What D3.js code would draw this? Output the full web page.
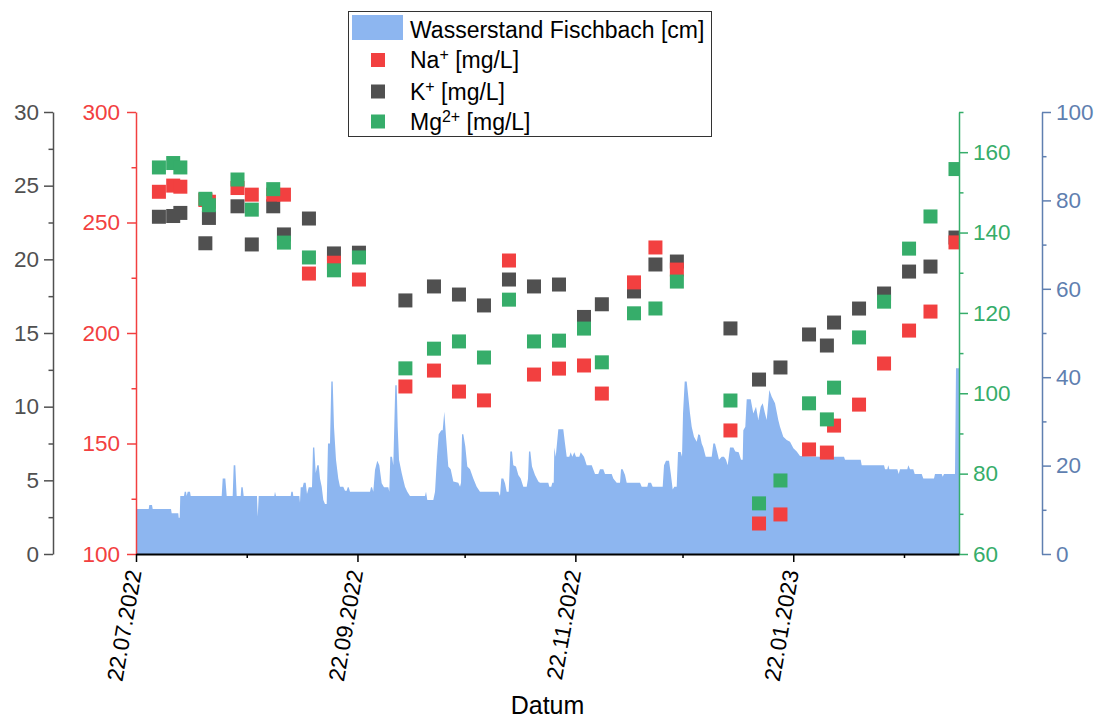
<!DOCTYPE html>
<html>
<head>
<meta charset="utf-8">
<script src="https://cdn.jsdelivr.net/npm/d3@7"></script>
<style>
  body { margin: 0; background: #fff; }
  text { font-family: "Liberation Sans", Arial, Helvetica, sans-serif; }
</style>
</head>
<body>
<svg id="chart" width="1099" height="721"></svg>
<script>
// ---- Ion samples (grab samples, Fischbach) ----
const sampleDates = [
  "28.07.2022 10:00", "01.08.2022 10:00", "03.08.2022 10:00", "10.08.2022 10:00", "11.08.2022 10:00",
  "19.08.2022 10:00", "23.08.2022 10:00", "29.08.2022 10:00", "01.09.2022 10:00", "08.09.2022 10:00",
  "15.09.2022 10:00", "22.09.2022 10:00", "05.10.2022 10:00", "13.10.2022 10:00", "20.10.2022 10:00",
  "27.10.2022 10:00", "03.11.2022 10:00", "10.11.2022 10:00", "17.11.2022 10:00", "24.11.2022 10:00",
  "29.11.2022 10:00", "08.12.2022 10:00", "14.12.2022 10:00", "20.12.2022 10:00", "04.01.2023 10:00",
  "12.01.2023 10:00", "18.01.2023 10:00", "26.01.2023 10:00", "31.01.2023 10:00", "02.02.2023 10:00",
  "09.02.2023 10:00", "16.02.2023 10:00", "23.02.2023 10:00", "01.03.2023 10:00", "08.03.2023 10:00"
];
// Na+ [mg/L]
const sodium = [
  263.9, 266.7, 266.2, 260.2, 259.4, 265.6, 262.6, 262.6, 262.6, 226.9,
  231.8, 224.2, 175.8, 183.0, 173.5, 169.5, 232.8, 181.2, 183.9, 185.3,
  172.6, 222.9, 238.7, 228.7, 155.9, 113.8, 117.9, 147.3, 145.9, 158.1,
  167.6, 186.2, 201.1, 209.7, 241.0
];
// K+ [mg/L]
const potassium = [
  22.89, 22.94, 23.15, 21.09, 22.81, 23.60, 21.01, 23.60, 21.69, 22.77,
  20.40, 20.45, 17.21, 18.16, 17.61, 16.87, 18.63, 18.16, 18.29, 16.09,
  16.95, 17.82, 19.65, 19.85, 15.31, 11.84, 12.66, 14.90, 14.15, 15.71,
  16.66, 17.68, 19.17, 19.51, 21.48
];
// Mg2+ [mg/L]
const magnesium = [
  156.2, 157.3, 156.2, 148.4, 146.8, 153.2, 145.7, 150.8, 137.5, 133.8,
  130.6, 133.8, 106.2, 111.1, 112.9, 108.9, 123.3, 112.9, 113.1, 116.1,
  107.7, 119.9, 121.1, 127.8, 98.2, 72.6, 78.3, 97.5, 93.5, 101.4,
  113.9, 122.8, 136.0, 144.0, 155.8
];

// ---- Water level logger: [days since 22.07.2022 00:00, level in cm] ----
const waterLevel = [
  [0,10.2],[3.56,10.2],[3.72,11.1],[4.48,11.1],[4.68,10.2],[9.8,10.2],[9.99,9.2],[11.84,9.2],[11.95,8.2],[12.23,8.2],
  [12.4,13.1],[13.44,13.1],[13.63,14.1],[14.0,14.1],[14.19,13.1],[14.47,14.1],[15.12,14.1],[15.31,13.1],[23.99,13.1],[24.27,17.1],
  [25.0,17.1],[25.39,13.1],[27.07,13.1],[27.35,20.1],[27.8,20.1],[28.19,13.1],[29.31,13.1],[29.48,15.1],[29.87,15.1],[30.15,13.1],
  [33.87,13.1],[34.07,8.4],[34.35,13.1],[38.72,13.1],[38.91,14.1],[39.19,13.1],[43.31,13.1],[43.48,14.1],[43.87,14.1],[44.04,13.1],
  [45.72,13.1],[45.91,11.6],[46.11,15.1],[46.67,15.1],[46.95,16.1],[47.51,16.1],[47.87,13.6],[48.35,15.1],[49.27,15.1],[49.55,24.1],
  [49.92,24.1],[50.31,18.3],[50.76,20.1],[51.15,20.1],[51.51,17.1],[51.99,15.2],[52.44,12.2],[52.91,11.3],[53.39,11.3],[53.75,25.0],
  [54.31,25.0],[54.68,39.0],[55.07,39.0],[55.43,28.8],[55.99,21.3],[56.63,17.1],[57.11,15.2],[58.03,15.2],[58.51,14.3],[58.99,14.3],
  [59.27,15.1],[59.55,15.1],[59.91,14.1],[65.51,14.1],[65.79,15.1],[66.07,15.1],[66.43,14.1],[66.91,19.0],[67.55,21.1],[68.11,20.1],
  [68.78,16.0],[69.43,15.1],[70.63,15.1],[70.91,14.1],[71.19,22.0],[71.67,22.0],[72.03,20.1],[72.59,38.2],[72.98,38.2],[73.26,28.8],
  [73.63,21.3],[74.38,18.3],[74.83,16.8],[75.31,15.2],[75.95,14.1],[76.71,13.1],[80.91,13.1],[81.19,14.1],[81.55,12.2],[83.23,12.2],
  [83.71,14.1],[84.27,22.0],[84.74,27.1],[85.47,28.0],[85.86,28.0],[86.31,32.2],[86.79,26.5],[87.43,19.8],[88.1,19.2],[88.83,16.4],
  [90.23,16.1],[90.71,15.2],[90.99,16.1],[91.27,27.1],[91.63,27.1],[92.19,24.3],[92.75,19.8],[93.51,19.2],[94.43,17.1],[95.38,15.2],
  [96.3,14.1],[101.43,14.1],[101.9,13.1],[102.27,17.1],[102.83,17.1],[103.3,16.0],[103.78,14.1],[104.34,14.1],[104.79,23.2],[105.26,23.2],
  [105.63,20.1],[106.38,19.8],[107.03,17.9],[107.7,17.1],[108.43,15.2],[109.38,15.2],[109.74,17.0],[110.02,23.2],[110.39,23.2],[110.86,19.8],
  [111.7,17.9],[112.63,16.4],[113.1,16.1],[115.42,16.1],[115.71,15.2],[116.26,15.2],[116.55,16.1],[116.94,16.1],[117.11,24.1],[117.5,22.0],
  [118.23,28.2],[119.62,28.2],[120.1,25.0],[120.58,22.0],[121.3,22.0],[121.7,23.0],[122.14,22.0],[122.71,23.0],[123.18,22.0],[124.1,22.0],
  [124.5,23.0],[125.42,22.0],[126.18,20.1],[127.58,20.1],[128.22,18.7],[128.5,18.1],[129.42,18.1],[129.9,19.2],[130.82,19.2],[131.3,18.1],
  [133.17,18.1],[133.62,17.1],[134.57,16.1],[135.5,16.1],[135.78,19.2],[136.25,19.2],[136.9,17.9],[137.37,16.1],[141.1,16.1],[141.57,15.2],
  [143.14,15.2],[143.42,16.1],[144.18,16.1],[144.65,15.2],[147.45,15.2],[147.82,20.1],[148.38,21.1],[149.22,21.1],[149.69,18.3],[150.25,14.6],
  [150.7,15.2],[151.37,15.2],[151.74,23.1],[152.49,23.1],[152.86,22.0],[153.14,31.8],[153.61,39.0],[154.17,39.0],[154.62,35.6],[155.1,31.8],
  [155.57,28.8],[156.21,26.5],[156.97,25.4],[157.42,27.1],[157.89,26.9],[158.37,25.0],[158.82,24.1],[159.49,22.0],[161.17,22.0],[161.62,25.0],
  [162.09,25.0],[162.57,23.5],[163.21,21.3],[163.97,22.0],[164.61,22.0],[165.17,21.3],[165.65,20.1],[166.29,24.1],[167.22,24.1],[167.78,23.2],
  [168.73,23.0],[169.37,21.3],[169.85,21.3],[170.02,28.0],[170.58,28.8],[170.97,35.0],[172.09,35.0],[172.82,31.8],[173.57,33.3],[174.22,30.3],
  [174.89,33.3],[175.45,34.1],[176.09,31.8],[176.57,30.3],[177.29,37.1],[177.97,35.6],[178.89,34.1],[179.81,30.3],[180.29,28.8],[181.21,26.5],
  [182.17,25.8],[183.09,25.4],[184.04,23.9],[184.97,23.2],[185.89,22.2],[191.49,22.0],[198.21,22.0],[198.49,21.3],[202.88,21.3],[203.16,20.1],
  [209.41,20.1],[209.69,19.2],[210.33,19.2],[210.61,20.1],[210.89,19.2],[213.13,19.2],[213.52,18.1],[213.89,19.2],[215.93,19.2],[216.21,20.1],
  [216.69,19.2],[217.61,19.2],[218.0,18.1],[219.96,18.1],[220.41,17.1],[223.4,17.1],[223.68,18.1],[225.56,18.1],[225.84,17.5],[226.2,18.1],
  [229.28,18.1],[229.56,42.0],[230.4,42.0]
];

// ---- Axis definitions ----
const naTicks = [100, 150, 200, 250, 300];
const kTicks = [0, 5, 10, 15, 20, 25, 30];
const mgTicks = [60, 80, 100, 120, 140, 160];
const levelTicks = [0, 20, 40, 60, 80, 100];
const dateTickLabels = ["22.07.2022", "22.09.2022", "22.11.2022", "22.01.2023"];
const dateMinorLabels = ["22.08.2022", "22.10.2022", "22.12.2022", "22.02.2023"];

// ---- Colours ----
const cLevel = "#8db6f0";
const cNa = "#f24040";
const cK = "#505050";
const cMg = "#36ad6a";
const cLevelAxis = "#5f7fb0";

// ---- Layout ----
const L = 136, R = 959, T = 112, B = 554;
const FS = 22.5;

const svg = d3.select("#chart");
const parseSample = d3.timeParse("%d.%m.%Y %H:%M");
const parseDay = d3.timeParse("%d.%m.%Y");
const t0 = parseDay("22.07.2022");
const DAY = 864e5;
const dayToDate = d => new Date(+t0 + d * DAY);

const x = d3.scaleTime().domain([t0, dayToDate(230.4)]).range([L, R]);
const yNa = d3.scaleLinear().domain([100, 300]).range([B, T]);
const yK = d3.scaleLinear().domain([0, 30]).range([B, T]);
const yMg = d3.scaleLinear().domain([60, 170]).range([B, T]);
const yLevel = d3.scaleLinear().domain([0, 100]).range([B, T]);

svg.append("defs").append("clipPath").attr("id", "plotClip")
  .append("rect").attr("x", L).attr("y", T).attr("width", R - L).attr("height", B - T);

const plot = svg.append("g").attr("clip-path", "url(#plotClip)");

// Water level as filled area
const area = d3.area()
  .x(d => x(dayToDate(d[0])))
  .y0(yLevel(0))
  .y1(d => yLevel(d[1]));
plot.append("path").datum(waterLevel).attr("d", area).attr("fill", cLevel);

// Ion concentrations as square markers
const sampleX = sampleDates.map(s => x(parseSample(s)));
const MS = 14;
function squares(values, scale, color) {
  plot.append("g").selectAll("rect").data(values).join("rect")
    .attr("x", (d, i) => sampleX[i] - MS / 2)
    .attr("y", d => scale(d) - MS / 2)
    .attr("width", MS).attr("height", MS)
    .attr("fill", color);
}
squares(potassium, yK, cK);
squares(sodium, yNa, cNa);
squares(magnesium, yMg, cMg);

// ---- Axes ----
function styleAxis(g, color, width) {
  g.selectAll(".domain").attr("stroke", color).attr("stroke-width", width);
  g.selectAll(".tick line").attr("stroke", color).attr("stroke-width", width);
  g.selectAll(".tick text").attr("fill", color).attr("font-size", FS)
    .attr("font-family", "Liberation Sans, Arial, sans-serif");
}
function minorValues(major) {
  const out = [];
  for (let i = 0; i < major.length - 1; i++) out.push((major[i] + major[i + 1]) / 2);
  return out;
}

function yAxis(xPos, scale, major, minor, orient, color, pad) {
  const make = orient === "left" ? d3.axisLeft : d3.axisRight;
  const gMinor = svg.append("g").attr("transform", `translate(${xPos},0)`)
    .call(make(scale).tickValues(minor).tickSize(4.5).tickSizeOuter(0).tickFormat(""));
  gMinor.select(".domain").remove();
  styleAxis(gMinor, color, 1.5);
  const g = svg.append("g").attr("transform", `translate(${xPos},0)`)
    .call(make(scale).tickValues(major).tickSize(9).tickSizeOuter(0).tickPadding(pad).tickFormat(d3.format("d")));
  styleAxis(g, color, 1.5);
  return g;
}

// K+ (outer left), Na+ (inner left), Mg2+ (inner right), water level (outer right)
yAxis(53, yK, kTicks, minorValues(kTicks), "left", cK, 5);
yAxis(L, yNa, naTicks, minorValues(naTicks), "left", cNa, 7);
yAxis(R, yMg, mgTicks, minorValues(mgTicks).concat([170]), "right", cMg, 5);
yAxis(1042, yLevel, levelTicks, minorValues(levelTicks), "right", cLevelAxis, 5);

// Date axis
const majorDates = dateTickLabels.map(parseDay);
const minorDates = dateMinorLabels.map(parseDay);
const gxMinor = svg.append("g").attr("transform", `translate(0,${B})`)
  .call(d3.axisBottom(x).tickValues(minorDates).tickSize(4).tickSizeOuter(0).tickFormat(""));
gxMinor.select(".domain").remove();
styleAxis(gxMinor, "#000", 1.5);
const gx = svg.append("g").attr("transform", `translate(0,${B})`)
  .call(d3.axisBottom(x).tickValues(majorDates).tickSize(8).tickSizeOuter(0).tickFormat(""));
styleAxis(gx, "#000", 1.5);
gx.select(".domain").attr("stroke-width", 2);

svg.append("g").selectAll("text").data(majorDates).join("text")
  .attr("transform", d => `translate(${x(d) - 2},${B + 16}) rotate(-80)`)
  .attr("text-anchor", "end").attr("dy", "0.35em")
  .attr("font-size", FS).attr("fill", "#000")
  .text((d, i) => dateTickLabels[i]);

svg.append("text").attr("x", (L + R) / 2).attr("y", 714)
  .attr("text-anchor", "middle").attr("font-size", 25).attr("fill", "#000")
  .text("Datum");

// ---- Legend ----
const lg = svg.append("g");
lg.append("rect").attr("x", 348.5).attr("y", 11.5).attr("width", 363).attr("height", 125)
  .attr("fill", "#fff").attr("stroke", "#333").attr("stroke-width", 1);
lg.append("rect").attr("x", 352).attr("y", 15).attr("width", 51).attr("height", 25).attr("fill", cLevel);
lg.append("text").attr("x", 410).attr("y", 38).attr("font-size", 23).attr("fill", "#000")
  .text("Wasserstand Fischbach [cm]");

const legendIons = [
  { base: "Na", sup: "+", color: cNa, cy: 60 },
  { base: "K", sup: "+", color: cK, cy: 91.5 },
  { base: "Mg", sup: "2+", color: cMg, cy: 121.5 }
];
legendIons.forEach(e => {
  lg.append("rect").attr("x", 378 - MS / 2).attr("y", e.cy - MS / 2)
    .attr("width", MS).attr("height", MS).attr("fill", e.color);
  const t = lg.append("text").attr("x", 410).attr("y", e.cy + 8).attr("font-size", 23).attr("fill", "#000");
  t.append("tspan").text(e.base);
  t.append("tspan").attr("dy", -8).attr("font-size", 16).text(e.sup);
  t.append("tspan").attr("dy", 8).text(" [mg/L]");
});
</script>
</body>
</html>
